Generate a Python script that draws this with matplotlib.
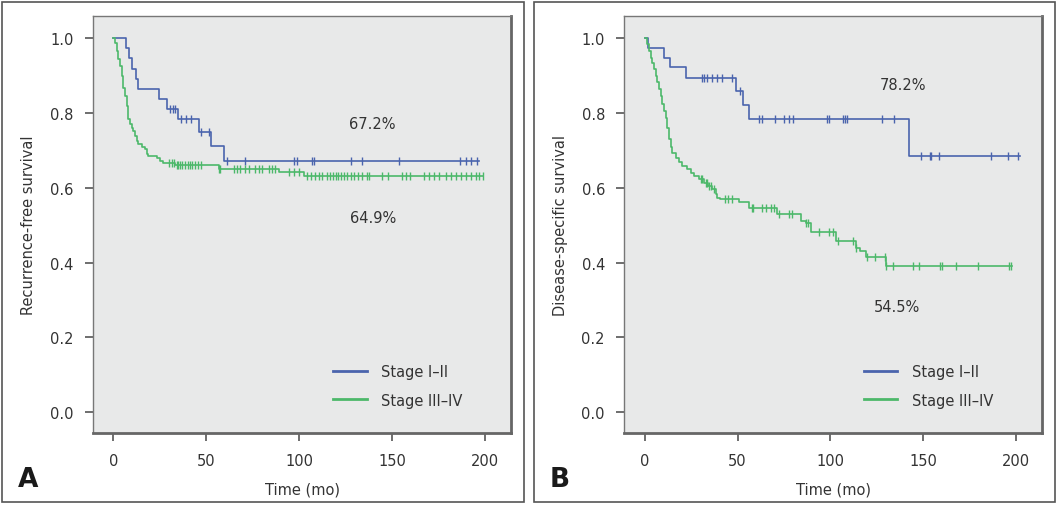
import matplotlib
matplotlib.use("Agg")
import matplotlib.pyplot as plt
import numpy as np
from matplotlib.patches import Rectangle

# ---- data ----
# Panel A: recurrence-free survival
a1_times = [6.6, 8.4, 9.8, 12.0, 13.4, 24.6, 28.7, 34.6, 45.8, 52.6, 59.3]
a1_surv = [0.973, 0.946, 0.919, 0.892, 0.865, 0.838, 0.811, 0.784, 0.748, 0.711, 0.672]
a1_end = 196.8
a1_cens = [30.5, 31.9, 33.2, 36.4, 39.1, 41.8, 47.2, 51.7, 61.1, 70.6, 97.0, 98.8,
           106.6, 107.8, 127.6, 133.6, 153.7, 186.6, 189.6, 192.3, 195.6]

a2_times = [0.8, 1.7, 2.6, 3.5, 4.4, 5.3, 6.2, 7.1, 8.0, 8.9, 9.8, 10.7, 11.6, 12.5,
            13.4, 15.2, 17.0, 17.9, 18.8, 23.3, 25.1, 26.9, 33.0, 56.6, 89.0, 102.4]
a2_surv = [0.988, 0.966, 0.944, 0.926, 0.899, 0.868, 0.846, 0.819, 0.783, 0.770, 0.761,
           0.752, 0.739, 0.725, 0.717, 0.710, 0.703, 0.690, 0.685, 0.681, 0.672, 0.666,
           0.660, 0.651, 0.642, 0.632]
a2_end = 199.0
a2_cens = [30.0, 31.4, 32.6, 34.1, 35.0, 35.9, 37.1, 38.6, 40.0, 41.3, 42.5, 44.0, 45.4,
           47.2, 56.6, 57.5, 64.7, 66.5, 68.3, 70.6, 72.7, 76.4, 78.1, 80.0, 83.5, 85.4,
           87.2, 94.3, 97.0, 99.7, 104.3, 106.4, 108.7, 110.5, 112.4, 115.1, 116.8, 118.3,
           119.5, 120.8, 122.2, 124.0, 125.8, 127.6, 129.4, 131.6, 133.9, 136.3, 137.5,
           144.7, 147.8, 155.5, 157.3, 159.6, 167.2, 169.9, 172.6, 175.3, 178.9, 181.6,
           184.3, 187.0, 189.7, 192.4, 195.1, 196.8, 198.7]

# Panel B: disease-specific survival
b1_times = [1.8, 10.3, 13.5, 22.0, 49.0, 53.0, 55.9, 142.3]
b1_surv = [0.975, 0.948, 0.922, 0.893, 0.859, 0.821, 0.783, 0.685]
b1_end = 202.0
b1_cens = [31.0, 31.9, 33.7, 36.4, 39.1, 41.8, 47.2, 51.2, 61.6, 63.1, 70.3, 75.1, 77.8,
           80.0, 98.0, 99.5, 107.0, 108.1, 108.8, 127.9, 134.1, 149.0, 153.5, 154.4,
           158.6, 186.8, 195.9, 201.3]

b2_times = [1.3, 2.2, 3.1, 3.9, 4.9, 5.8, 6.7, 7.6, 8.5, 9.4, 10.3, 11.2, 12.1, 13.0,
            13.9, 14.8, 16.6, 18.4, 20.2, 22.9, 24.7, 26.5, 29.2, 31.9, 34.0, 36.4,
            38.2, 39.1, 40.5, 50.8, 56.2, 71.5, 84.2, 86.9, 89.6, 103.1, 113.9, 115.7,
            119.3, 130.1]
b2_surv = [0.984, 0.966, 0.948, 0.935, 0.917, 0.899, 0.882, 0.864, 0.846, 0.824, 0.806,
           0.788, 0.761, 0.730, 0.708, 0.694, 0.681, 0.668, 0.659, 0.650, 0.641, 0.632,
           0.623, 0.614, 0.605, 0.596, 0.583, 0.574, 0.570, 0.561, 0.547, 0.529, 0.511,
           0.507, 0.482, 0.458, 0.440, 0.431, 0.414, 0.390]
b2_end = 197.7
b2_cens = [30.1, 31.0, 32.8, 33.7, 34.6, 35.5, 37.3, 43.2, 45.0, 47.2, 57.7, 58.4, 63.4,
           65.2, 67.9, 69.7, 72.4, 77.8, 79.3, 86.9, 87.7, 94.1, 99.1, 101.2, 104.0,
           112.1, 113.9, 119.6, 124.3, 129.2, 130.1, 133.7, 144.5, 147.7, 158.9, 160.4,
           167.9, 179.6, 196.4, 197.1]

labels = ["Stage I\u2013II", "Stage III\u2013IV"]
ylabels = ["Recurrence-free survival", "Disease-specific survival"]
letters = ["A", "B"]
pct_a = ["67.2%", "64.9%"]
pct_b = ["78.2%", "54.5%"]

BLUE = "#4a64ad"
GREEN = "#4cb86a"
BG = "#e8e9e9"
TXT = "#333333"

plt.rcParams.update({"font.family": "DejaVu Sans", "font.size": 10.5})

fig = plt.figure(figsize=(10.6, 5.06), dpi=100)


def km(ax, times, surv, end, cens, color, label):
    x = np.r_[0.0, times, end]
    y = np.r_[1.0, surv, surv[-1]]
    ax.step(x, y, where="post", color=color, lw=1.2, label=label)
    idx = np.searchsorted(times, cens, side="right")
    cy = np.r_[1.0, surv][idx]
    ax.plot(cens, cy, ls="none", marker="|", ms=6, mew=1.0, color=color)


def style(ax, ylabel):
    ax.set_facecolor(BG)
    ax.set_xlim(-11, 214)
    ax.set_ylim(-0.056, 1.059)
    ax.set_xticks([0, 50, 100, 150, 200])
    ax.set_yticks(np.arange(0, 1.01, 0.2))
    ax.yaxis.set_major_formatter(matplotlib.ticker.FormatStrFormatter("%.1f"))
    ax.tick_params(length=6, width=1.2, color="#555555", labelcolor=TXT, pad=8)
    for s in ["left", "top"]:
        ax.spines[s].set_color("#777777"); ax.spines[s].set_linewidth(1.0)
    for s in ["right", "bottom"]:
        ax.spines[s].set_color("#666666"); ax.spines[s].set_linewidth(2.0)
    ax.set_xlabel("Time (mo)", color=TXT, labelpad=10)
    ax.set_ylabel(ylabel, color=TXT, labelpad=10)
    leg = ax.legend(loc="lower right", bbox_to_anchor=(0.915, 0.03), frameon=False,
                    handlelength=2.3, labelspacing=0.9, handletextpad=1.0)
    for t in leg.get_texts():
        t.set_color(TXT)
    for h in leg.get_lines():
        h.set_linewidth(2.0)


axA = fig.add_axes([0.0877, 0.142, 0.3945, 0.824])
km(axA, a1_times, a1_surv, a1_end, a1_cens, BLUE, labels[0])
km(axA, a2_times, a2_surv, a2_end, a2_cens, GREEN, labels[1])
style(axA, ylabels[0])
axA.text(139.3, 0.772, pct_a[0], ha="center", va="center", color=TXT)
axA.text(139.5, 0.521, pct_a[1], ha="center", va="center", color=TXT)

axB = fig.add_axes([0.589, 0.142, 0.394, 0.824])
km(axB, b1_times, b1_surv, b1_end, b1_cens, BLUE, labels[0])
km(axB, b2_times, b2_surv, b2_end, b2_cens, GREEN, labels[1])
style(axB, ylabels[1])
axB.text(139.1, 0.877, pct_b[0], ha="center", va="center", color=TXT)
axB.text(136.0, 0.283, pct_b[1], ha="center", va="center", color=TXT)

# panel frames and letters
for x0, w, letter, lx in [(2, 522, letters[0], 18), (534, 521, letters[1], 550)]:
    fig.patches.append(Rectangle((x0 / 1060, 3 / 506), w / 1060, 500 / 506,
                                 transform=fig.transFigure, fill=False,
                                 edgecolor="#555555", lw=1.2))
    fig.text(lx / 1060, 1 - 480 / 506, letter, fontsize=19, fontweight="bold",
             va="center", ha="left", color="#1a1a1a")

fig.savefig("out.png", dpi=100)
